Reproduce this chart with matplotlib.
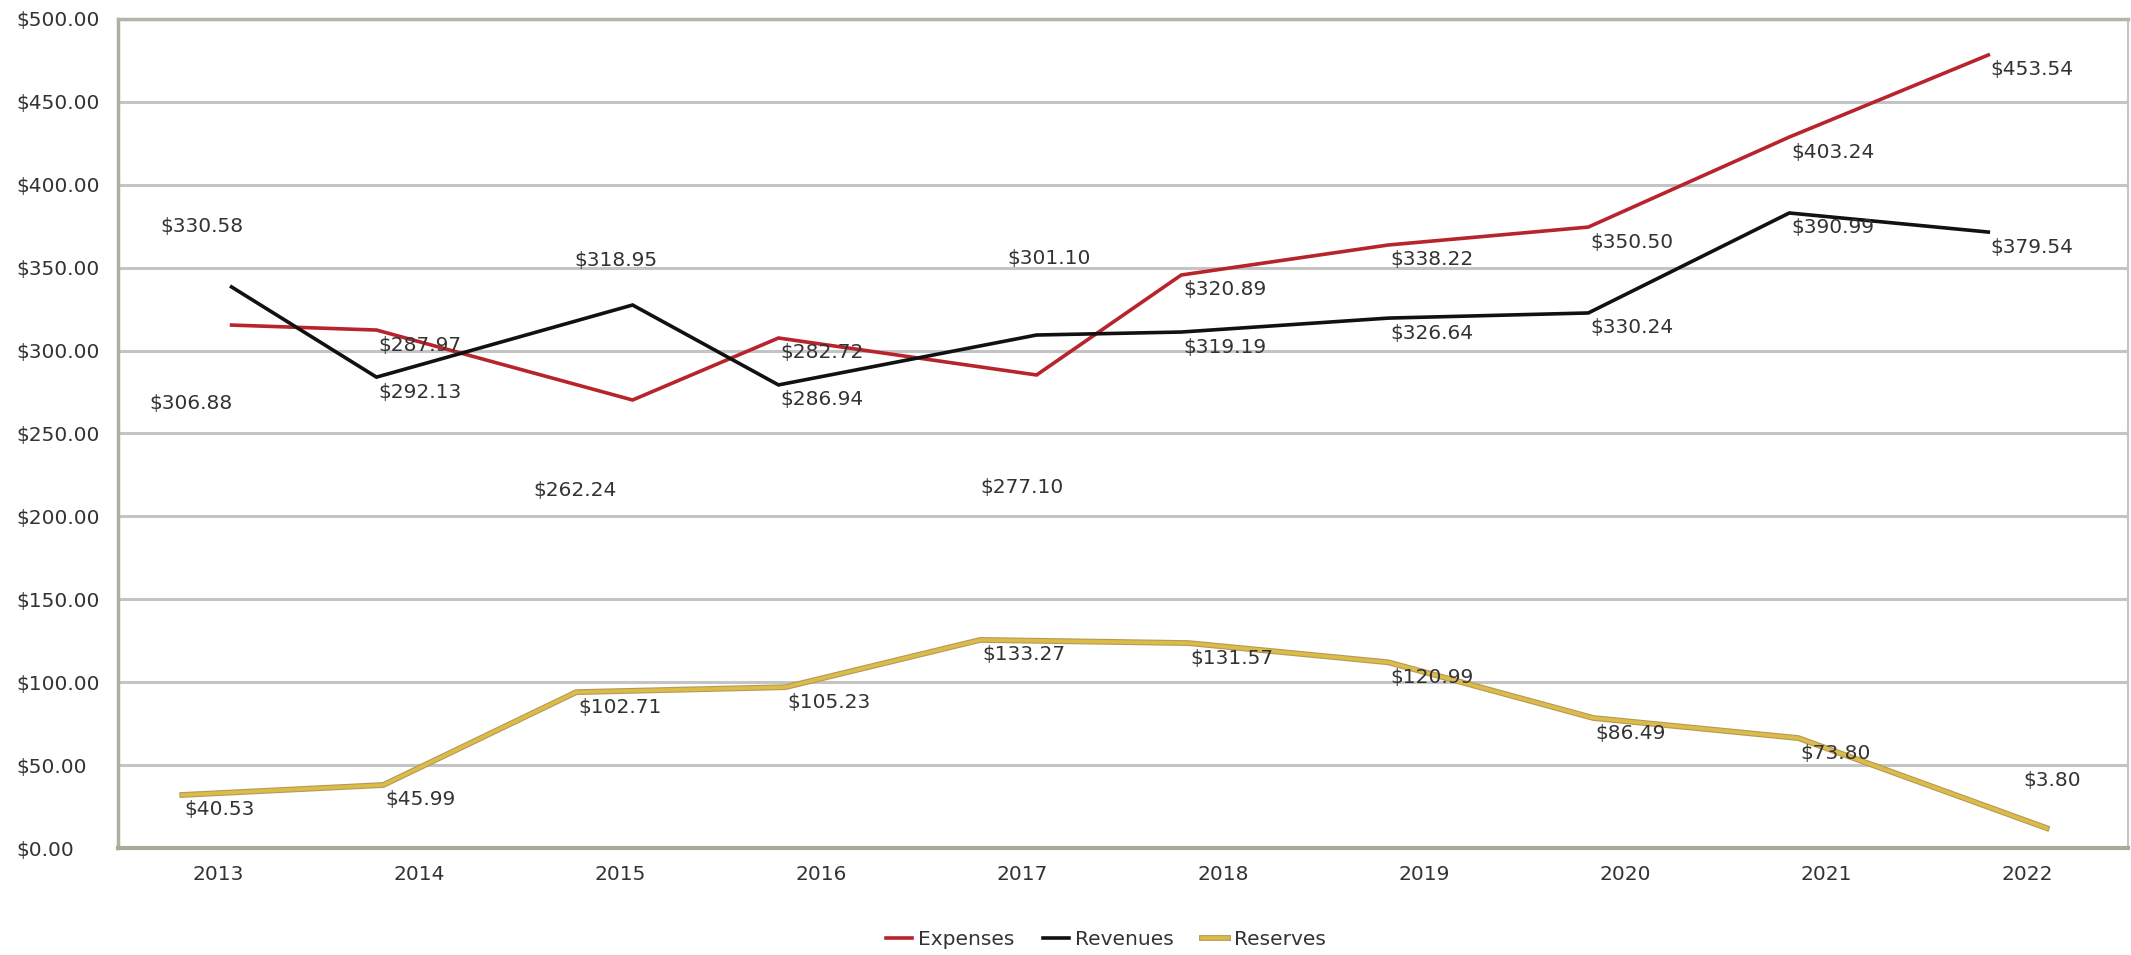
import matplotlib
matplotlib.use('Agg')
from matplotlib import pyplot as plt
import matplotlib.patheffects as pe

years = ['2013', '2014', '2015', '2016', '2017', '2018', '2019', '2020', '2021', '2022']

# values printed on the chart
expenses = [306.88, 287.97, 262.24, 282.72, 277.10, 320.89, 338.22, 350.50, 403.24, 453.54]
revenues = [330.58, 292.13, 318.95, 286.94, 301.10, 319.19, 326.64, 330.24, 390.99, 379.54]
reserves = [40.53, 45.99, 102.71, 105.23, 133.27, 131.57, 120.99, 86.49, 73.80, 3.80]

# where the lines are actually drawn in the picture (x in category units)
line_x = [0.065, 0.786, 2.06, 2.786, 4.07, 4.79, 5.82, 6.815, 7.815, 8.805]
res_x = [-0.18, 0.82, 1.78, 2.82, 3.79, 4.825, 5.82, 6.84, 7.86, 9.095]
exp_line = [315.4, 312.4, 270.2, 307.6, 285.3, 345.6, 363.7, 374.5, 428.8, 478.3]
rev_line = [338.4, 284.0, 327.5, 279.3, 309.4, 311.2, 319.6, 322.7, 383.0, 371.5]
res_line = [32.0, 38.0, 94.0, 97.0, 125.5, 123.6, 112.0, 78.4, 66.3, 12.0]

# label offsets in pixels from the line vertex (default below-right)
default_off = (2, -15)
exp_off = {0: (-82, -78), 2: (-99, -90), 4: (-56, -113)}
rev_off = {0: (-71, 60), 2: (-58, 45), 4: (-29, 77)}
res_off = {9: (-23, 48)}

red = '#b8242c'
black = '#111111'
gold = '#dcbc48'
txt = '#333333'
fs = 14.5

fig = plt.figure(figsize=(21.31, 9.55), dpi=100)
ax = fig.add_axes([118 / 2131, 1 - 848 / 955, (2128 - 118) / 2131, (848 - 19) / 955])

ax.set_xlim(-0.5, 9.5)
ax.set_ylim(0, 500)
ax.set_yticks(range(0, 501, 50))
ax.set_yticklabels(['$%.2f' % v for v in range(0, 501, 50)])
ax.set_xticks(range(len(years)))
ax.set_xticklabels(years)
ax.yaxis.grid(True, color='#c4c4c4', linewidth=2.2)
ax.set_axisbelow(True)
ax.tick_params(axis='y', length=0, pad=73, labelsize=fs, labelcolor=txt)
ax.tick_params(axis='x', length=0, pad=12, labelsize=fs, labelcolor=txt)
for lab in ax.get_yticklabels():
    lab.set_horizontalalignment('left')

ax.spines['left'].set_color('#b0b0a2')
ax.spines['left'].set_linewidth(2.5)
ax.spines['bottom'].set_color('#aaaa98')
ax.spines['bottom'].set_linewidth(3)
ax.spines['top'].set_color('#b4b4aa')
ax.spines['top'].set_linewidth(2.5)
ax.spines['right'].set_color('#c4c4c4')
ax.spines['right'].set_linewidth(1.5)

ax.plot(line_x, exp_line, color=red, lw=2.6, label='Expenses', solid_joinstyle='miter')
ax.plot(line_x, rev_line, color=black, lw=2.6, label='Revenues', solid_joinstyle='miter')
res_effects = [pe.Stroke(linewidth=4.2, foreground='#b49a58'), pe.Normal()]
ax.plot(res_x, res_line, color=gold, lw=2.6, label='Reserves',
        path_effects=res_effects)


def put_labels(xs, ys, vals, offs):
    for i, (x, y, v) in enumerate(zip(xs, ys, vals)):
        dx, dy = offs.get(i, default_off)
        ax.annotate('$%.2f' % v, (x, y), xytext=(dx, dy), textcoords='offset pixels',
                    ha='left', va='center', fontsize=fs, color=txt)


put_labels(line_x, exp_line, expenses, exp_off)
put_labels(line_x, rev_line, revenues, rev_off)
put_labels(res_x, res_line, reserves, res_off)

fig.legend(loc='center', bbox_to_anchor=(0.519, 0.016), ncol=3, frameon=False,
           fontsize=fs, handlelength=1.3, handletextpad=0.3, columnspacing=1.4,
           labelcolor=txt)

plt.savefig('out.png', dpi=100)
